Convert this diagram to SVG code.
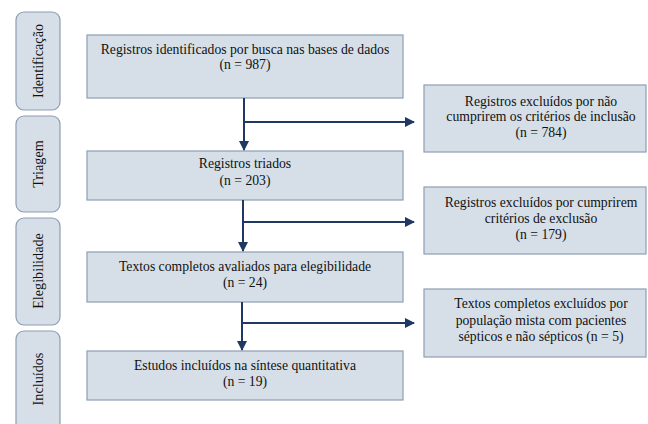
<svg xmlns="http://www.w3.org/2000/svg" width="648" height="424" viewBox="0 0 648 424">
<style>
.side{fill:#d6dfe8;stroke:#8d9eb2;stroke-width:1.2}
.box{fill:#d6dfe8;stroke:#8d9eb2;stroke-width:1.2}
.t{font-size:13.7px;fill:#111;text-anchor:middle}
.ts{font-size:14.2px;fill:#111;text-anchor:middle}
.c{stroke:#1f3864;stroke-width:2;fill:none}
</style>
<defs>
<marker id="ah" viewBox="0 0 10 10" refX="9" refY="5" markerWidth="5" markerHeight="5" orient="auto" markerUnits="strokeWidth">
<path d="M0,0 L10,5 L0,10 z" fill="#1f3864"/>
</marker>
</defs>
<g id="phase-identificacao"><rect class="side" x="16" y="12" width="44" height="98" rx="8"/><text class="ts" font-family="Liberation Serif" transform="translate(43,61) rotate(-90)">Identificação</text></g>
<g id="phase-triagem"><rect class="side" x="16" y="116" width="44" height="96" rx="8"/><text class="ts" font-family="Liberation Serif" transform="translate(43,164) rotate(-90)">Triagem</text></g>
<g id="phase-elegibilidade"><rect class="side" x="16" y="218" width="44" height="107" rx="8"/><text class="ts" font-family="Liberation Serif" transform="translate(43,271) rotate(-90)">Elegibilidade</text></g>
<g id="phase-incluidos"><rect class="side" x="16" y="331" width="44" height="100" rx="8"/><text class="ts" font-family="Liberation Serif" transform="translate(43,379) rotate(-90)">Incluídos</text></g>
<g id="n1"><rect class="box" x="87" y="35" width="316" height="63"/><text class="t" font-family="Liberation Serif" x="245" y="54">Registros identificados por busca nas bases de dados</text><text class="t" font-family="Liberation Serif" x="245" y="69">(n = 987)</text></g>
<g id="n2"><rect class="box" x="87" y="151" width="316" height="49"/><text class="t" font-family="Liberation Serif" x="245" y="168">Registros triados</text><text class="t" font-family="Liberation Serif" x="245" y="185">(n = 203)</text></g>
<g id="n3"><rect class="box" x="87" y="252" width="316" height="50"/><text class="t" font-family="Liberation Serif" x="245" y="271">Textos completos avaliados para elegibilidade</text><text class="t" font-family="Liberation Serif" x="245" y="287">(n = 24)</text></g>
<g id="n4"><rect class="box" x="87" y="351" width="316" height="49"/><text class="t" font-family="Liberation Serif" x="245" y="370">Estudos incluídos na síntese quantitativa</text><text class="t" font-family="Liberation Serif" x="245" y="386">(n = 19)</text></g>
<g id="r1"><rect class="box" x="424" y="85" width="222" height="67"/><text class="t" font-family="Liberation Serif" x="541" y="106">Registros excluídos por não</text><text class="t" font-family="Liberation Serif" x="541" y="121">cumprirem os critérios de inclusão</text><text class="t" font-family="Liberation Serif" x="541" y="137">(n = 784)</text></g>
<g id="r2"><rect class="box" x="424" y="187" width="222" height="67"/><text class="t" font-family="Liberation Serif" x="541" y="207">Registros excluídos por cumprirem</text><text class="t" font-family="Liberation Serif" x="541" y="223">critérios de exclusão</text><text class="t" font-family="Liberation Serif" x="541" y="239">(n = 179)</text></g>
<g id="r3"><rect class="box" x="424" y="289" width="222" height="68"/><text class="t" font-family="Liberation Serif" x="541" y="308">Textos completos excluídos por</text><text class="t" font-family="Liberation Serif" x="541" y="325">população mista com pacientes</text><text class="t" font-family="Liberation Serif" x="541" y="341">sépticos e não sépticos (n = 5)</text></g>
<g id="connectors">
<path class="c" d="M244,98 V150" marker-end="url(#ah)"/>
<path class="c" d="M244,122 H414" marker-end="url(#ah)"/>
<path class="c" d="M243,200 V251" marker-end="url(#ah)"/>
<path class="c" d="M243,222 H414" marker-end="url(#ah)"/>
<path class="c" d="M242,302 V350" marker-end="url(#ah)"/>
<path class="c" d="M242,323 H414" marker-end="url(#ah)"/>
</g>
</svg>
